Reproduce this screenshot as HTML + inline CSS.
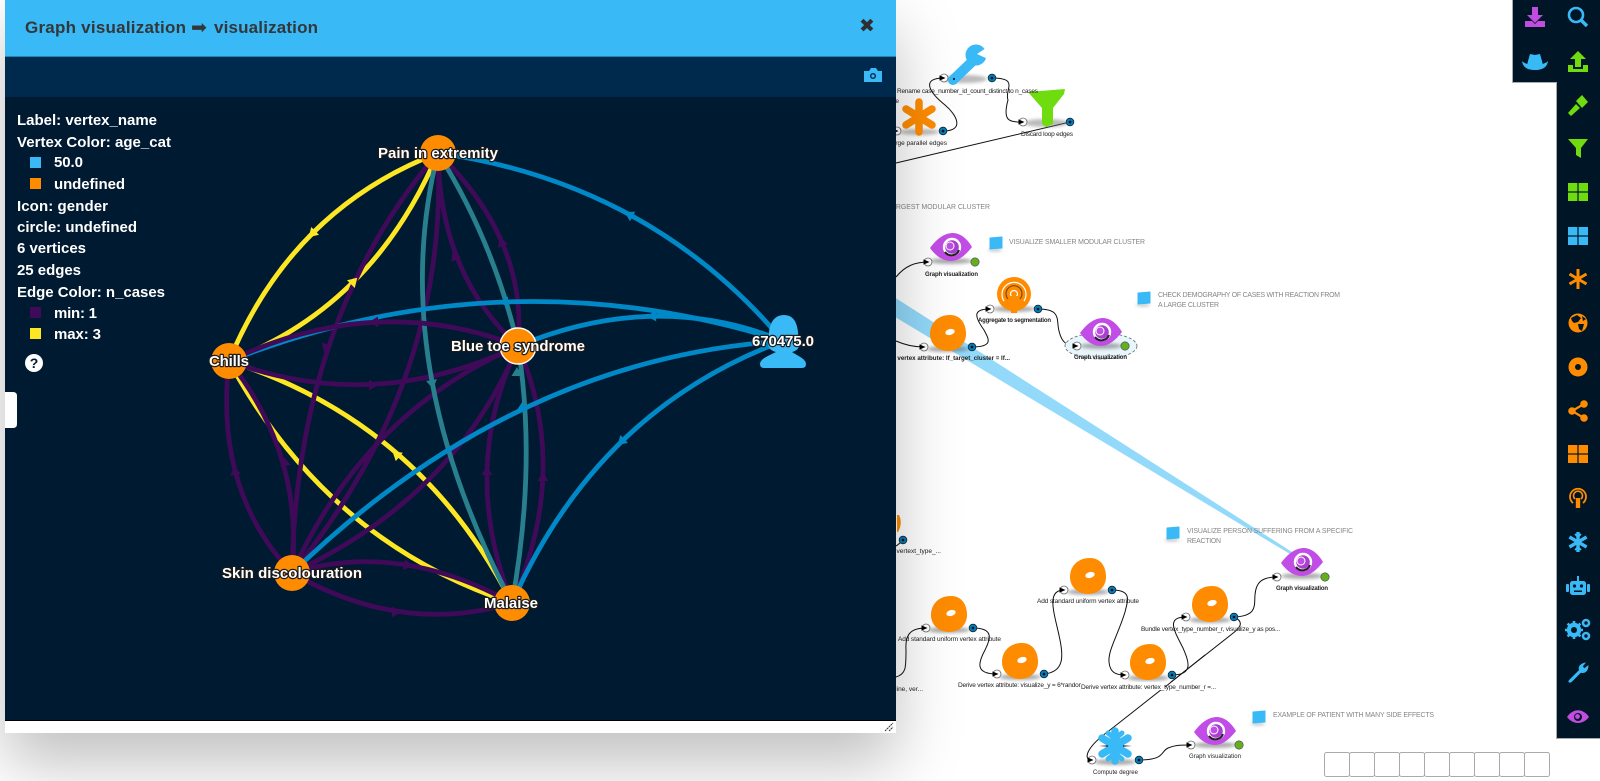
<!DOCTYPE html>
<html><head><meta charset="utf-8"><title>Graph visualization</title>
<style>
html,body{margin:0;padding:0;background:#fff;width:1600px;height:781px;overflow:hidden}
svg{position:absolute;left:0;top:0;display:block}
#panel{position:absolute;left:5px;top:0;width:891px;height:733px;background:#fff;box-shadow:0 30px 60px rgba(0,0,0,.25)}
.h{position:absolute;left:0;top:0;width:891px;height:57px;background:#39b9f6;border-bottom:1px solid #1f86b8;box-sizing:border-box}
.b{position:absolute;left:0;top:57px;width:891px;height:40px;background:#002a4d}
.c{position:absolute;left:0;top:97px;width:891px;height:623px;background:#001a31;border-bottom:1px solid #000}
text{font-family:"Liberation Sans",sans-serif}
.l{font-size:6.5px;fill:#222}
.n{font-size:6.9px;fill:#858585}
.t{font-size:15px;font-weight:bold;fill:#fff;paint-order:stroke;stroke:#001a31;stroke-width:.6px}
.g{font-size:15px;font-weight:bold;fill:#fff;text-anchor:middle;paint-order:stroke;stroke:#1b1b1b;stroke-width:2.4px;stroke-linejoin:round}
.w{fill:none;stroke:#111;stroke-width:1}
.y{fill:none;stroke:#fde725;stroke-width:4.8}
.p{fill:none;stroke:#3f0a58;stroke-width:4.8}
.e{fill:none;stroke:#28808f;stroke-width:4.8}
.u{fill:none;stroke:#0088c7;stroke-width:4.8}
</style></head><body>
<svg width="1600" height="781" viewBox="0 0 1600 781">
<defs>
<filter id="bl" x="-30%" y="-100%" width="160%" height="300%"><feGaussianBlur stdDeviation="1.6"/></filter>
<g id="sh"><ellipse cx="0" cy="0" rx="21" ry="3" fill="#666" opacity=".55" filter="url(#bl)"/></g>
<g id="eye"><use href="#sh" y="14"/><path d="M-21 1C-13-10-5-14 2-14C10-14 17-7 21 0C14 9 7 14 0 14C-9 14-16 8-21 1Z" fill="#c24de6"/><circle cx="1" r="8" fill="#a93fd0" stroke="#fff" stroke-width="2.4"/><path d="M-6 5A8 8 0 0 0 8 3" fill="none" stroke="#222" stroke-width="2"/><circle cx="-1" cy="-1" r="4" fill="#c24de6" stroke="#fff" stroke-width="1"/></g>
<g id="don"><use href="#sh" y="16"/><path d="M-18 1C-18-10-10-18 2-18C13-18 18-9 18 1C18 11 10 18 0 18C-10 18-18 11-18 1Z" fill="#ff8c00"/><ellipse cx="2" cy="-1" rx="4.8" ry="3" fill="#fff" transform="rotate(-15 2 -1)"/></g>
<g id="pi"><circle r="4" fill="#fff" stroke="#666" stroke-width=".8"/><polygon points="-4.5,-2.6 1.5,0 -4.5,2.6" fill="#000"/></g>
<g id="po"><circle r="3.9" fill="#0a78ae" stroke="#023" stroke-width=".7"/><circle r="1.3" fill="#012"/></g>
<g id="pg"><circle r="4.2" fill="#67ad1f" stroke="#345" stroke-width=".6"/></g>
<g id="note"><ellipse cx="6" cy="13" rx="7" ry="1.4" fill="#777" opacity=".5" filter="url(#bl)"/><path d="M1 1L13 0L13 11L1 12Z" fill="#39b9f6" stroke="#39b9f6" stroke-linejoin="round" stroke-width="1"/></g>
</defs>

<!-- connectors -->
<polygon points="880,288 880,308 1305,563 1306,561" fill="#39b9f6" opacity=".55"/>
<g class="x">
<path class="w" d="M1070 122L896 163"/>
<path class="w" d="M992 78C1020 78 1004 90 1008 100C1002 122 1010 122 1023 122"/>
<path class="w" d="M943 131C965 131 957 115 945 105C930 93 920 78 944 78"/>
<path class="w" d="M896 277C905 266 915 262 928 262"/>
<path class="w" d="M896 341C905 345 915 347 924 347"/>
<path class="w" d="M972 347C995 347 988 338 984 330C974 316 973 309 990 309"/>
<path class="w" d="M1038 309C1062 309 1056 320 1059 331C1062 344 1068 346 1077 346"/>
<path class="w" d="M903 540C900 543 898 545 896 546"/>
<path class="w" d="M896 677C906 674 906 668 906 650C905 635 910 628 926 628"/>
<path class="w" d="M973 628C995 628 990 640 985 650C978 663 975 674 997 674"/>
<path class="w" d="M1044 674C1065 672 1063 655 1060 640C1055 615 1045 590 1064 590"/>
<path class="w" d="M1112 590C1132 590 1128 600 1125 612C1118 635 1108 650 1109 662C1110 672 1115 675 1125 675"/>
<path class="w" d="M1172 675C1195 675 1188 660 1183 648C1175 632 1165 617 1186 617"/>
<path class="w" d="M1234 617C1258 616 1254 605 1255 595C1256 582 1262 577 1277 577"/>
<path class="w" d="M1234 617C1245 622 1240 628 1232 634L1110 730C1085 748 1083 760 1092 760"/>
<path class="w" d="M1139 760C1165 760 1160 752 1168 748C1175 745 1180 745 1191 745"/>
</g>

<!-- selection -->
<ellipse cx="1101" cy="346" rx="36" ry="13" fill="#e8f5fb" stroke="#567" stroke-width=".8" stroke-dasharray="3 2"/>

<!-- wrench -->
<ellipse cx="965" cy="79" rx="22" ry="4" fill="#777" opacity=".5" filter="url(#bl)"/>
<path d="M953 80L976 58" stroke="#39b9f6" stroke-width="10" stroke-linecap="round"/>
<circle cx="976" cy="55" r="10.5" fill="#39b9f6"/>
<polygon points="977,54 989,46 990,60" fill="#fff"/>
<circle cx="954" cy="79" r="1.1" fill="#024"/>
<!-- asterisk -->
<ellipse cx="919" cy="132" rx="20" ry="3" fill="#777" opacity=".5" filter="url(#bl)"/>
<g stroke="#ff8c00" stroke-width="7.5" stroke-linecap="round"><path d="M919 102V132"/><path d="M906 109L932 125"/><path d="M906 125L932 109"/></g>
<!-- funnel -->
<ellipse cx="1046" cy="123" rx="22" ry="4" fill="#777" opacity=".5" filter="url(#bl)"/>
<path d="M1028 92L1065 89L1064 94L1053 108L1053 124L1046 127L1042 124L1042 108Z" fill="#6fdc0f"/>

<use href="#eye" x="951" y="247"/>
<use href="#don" x="948" y="333"/>
<!-- podcast -->
<use href="#sh" x="1014" y="309"/>
<circle cx="1014" cy="294" r="17" fill="#ff8c00"/>
<path d="M1004 301A12 12 0 1 1 1024 301" fill="none" stroke="#fff" stroke-width="1.2"/>
<path d="M1008 299A8 8 0 1 1 1020 299" fill="none" stroke="#7a4a10" stroke-width="1.2"/>
<circle cx="1014" cy="294" r="3.5" fill="none" stroke="#fff" stroke-width="1.2"/>
<path d="M1009 296H1019L1017 313H1011Z" fill="#ff8c00"/>
<use href="#eye" x="1101" y="332"/>
<path d="M897 515H899Q903 523 898 532H897Z" fill="#ff8c00"/>
<use href="#don" x="949" y="614"/>
<use href="#don" x="1020" y="661"/>
<use href="#don" x="1088" y="576"/>
<use href="#don" x="1148" y="662"/>
<use href="#don" x="1210" y="604"/>
<use href="#eye" x="1302" y="562"/>
<use href="#eye" x="1215" y="731"/>
<!-- snowflake -->
<use href="#sh" x="1115" y="762"/>
<g stroke="#39b9f6" stroke-width="7.5" stroke-linecap="round"><path d="M1115 731V761"/><path d="M1102 738L1128 754"/><path d="M1102 754L1128 738"/><path d="M1108 733L1115 739L1122 733" fill="none" stroke-width="5"/><path d="M1108 759L1115 753L1122 759" fill="none" stroke-width="5"/></g>
<circle cx="1115" cy="746" r="9" fill="#39b9f6"/>
<polygon points="1099,746 1108,745 1108,747" fill="#222" opacity=".7"/>
<polygon points="1132,746 1123,745 1123,747" fill="#222" opacity=".7"/>

<!-- labels -->
<text class="l" x="897" y="93" textLength="141">Rename case_number_id_count_distinct to n_cases</text>
<text class="l" x="947" y="145" text-anchor="end">Merge parallel edges</text>
<text class="l" x="899" y="103" text-anchor="end">e</text>
<text class="l" x="1021" y="136" textLength="52">Discard loop edges</text>
<text class="l" x="925" y="276" textLength="53" style="font-weight:bold;font-size:6px">Graph visualization</text>
<text class="l" x="1010" y="360" text-anchor="end" style="font-weight:bold;font-size:6.2px">Derive vertex attribute: lf_target_cluster = lf...</text>
<text class="l" x="978" y="322" textLength="73" style="font-weight:bold;font-size:6px">Aggregate to segmentation</text>
<text class="l" x="1074" y="359" textLength="53" style="font-weight:bold;font-size:6px">Graph visualization</text>
<text class="l" x="941" y="553" text-anchor="end">, vertext_type_...</text>
<text class="l" x="898" y="641" textLength="103">Add standard uniform vertex attribute</text>
<text class="l" x="923" y="691" text-anchor="end">tline, ver...</text>
<text class="l" x="958" y="687" textLength="126">Derive vertex attribute: visualize_y = 6*random</text>
<rect x="1081" y="682" width="136" height="8" fill="#fff"/>
<text class="l" x="1037" y="603" textLength="102">Add standard uniform vertex attribute</text>
<text class="l" x="1081" y="689" textLength="135">Derive vertex attribute: vertex_type_number_r =...</text>
<text class="l" x="1141" y="631" textLength="139">Bundle vertex_type_number_r, visualize_y as pos...</text>
<text class="l" x="1276" y="590" textLength="52" style="font-weight:bold;font-size:6px">Graph visualization</text>
<text class="l" x="1093" y="774" textLength="45" style="font-size:6px">Compute degree</text>
<text class="l" x="1189" y="758" textLength="52" style="font-size:6px">Graph visualization</text>

<!-- redraw connectors across label -->
<path class="w" d="M1205 655L1165 687"/>

<!-- ports -->
<use href="#pi" x="944" y="78"/><use href="#po" x="992" y="78"/>
<use href="#pi" x="897" y="131"/><use href="#po" x="943" y="131"/>
<use href="#pi" x="1023" y="122"/><use href="#po" x="1070" y="122"/>
<use href="#pi" x="928" y="262"/><use href="#pg" x="975" y="262"/>
<use href="#pi" x="924" y="347"/><use href="#po" x="972" y="347"/>
<use href="#pi" x="990" y="309"/><use href="#po" x="1038" y="309"/>
<use href="#pi" x="1077" y="346"/><use href="#pg" x="1125" y="346"/>
<use href="#po" x="903" y="540"/>
<use href="#pi" x="926" y="628"/><use href="#po" x="973" y="628"/>
<use href="#pi" x="997" y="674"/><use href="#po" x="1044" y="674"/>
<use href="#pi" x="1064" y="590"/><use href="#po" x="1112" y="590"/>
<use href="#pi" x="1125" y="675"/><use href="#po" x="1172" y="675"/>
<use href="#pi" x="1186" y="617"/><use href="#po" x="1234" y="617"/>
<use href="#pi" x="1277" y="577"/><use href="#pg" x="1325" y="577"/>
<use href="#pi" x="1092" y="760"/><use href="#po" x="1139" y="760"/>
<use href="#pi" x="1191" y="745"/><use href="#pg" x="1239" y="745"/>

<!-- notes -->
<use href="#note" x="989" y="237"/>
<text class="n" x="1009" y="244" textLength="136">VISUALIZE SMALLER MODULAR CLUSTER</text>
<text class="n" x="990" y="209" text-anchor="end">VISUALIZE LARGEST MODULAR CLUSTER</text>
<use href="#note" x="1137" y="292"/>
<text class="n" x="1158" y="297" textLength="182">CHECK DEMOGRAPHY OF CASES WITH REACTION FROM</text>
<text class="n" x="1158" y="307" textLength="61">A LARGE CLUSTER</text>
<use href="#note" x="1166" y="527"/>
<text class="n" x="1187" y="533" textLength="166">VISUALIZE PERSON SUFFERING FROM A SPECIFIC</text>
<text class="n" x="1187" y="543" textLength="34">REACTION</text>
<use href="#note" x="1252" y="711"/>
<text class="n" x="1273" y="717" textLength="161">EXAMPLE OF PATIENT WITH MANY SIDE EFFECTS</text>

<!-- bottom boxes -->
<g fill="#fff" stroke="#aaa" stroke-width="1">
<rect x="1324.5" y="752.5" width="25" height="24" rx="2"/><rect x="1349.5" y="752.5" width="25" height="24" rx="2"/><rect x="1374.5" y="752.5" width="25" height="24" rx="2"/><rect x="1399.5" y="752.5" width="25" height="24" rx="2"/><rect x="1424.5" y="752.5" width="25" height="24" rx="2"/><rect x="1449.5" y="752.5" width="25" height="24" rx="2"/><rect x="1474.5" y="752.5" width="25" height="24" rx="2"/><rect x="1499.5" y="752.5" width="25" height="24" rx="2"/><rect x="1524.5" y="752.5" width="25" height="24" rx="2"/>
</g>
</svg>

<div id="panel"><div class="h"></div><div class="b"></div><div class="c"></div></div>

<svg width="1600" height="781" viewBox="0 0 1600 781">
<!-- header -->
<text x="25" y="33" font-size="17" font-weight="bold" fill="#33373a" textLength="161">Graph visualization</text>
<text x="191" y="33.5" font-size="19" fill="#33373a" style="font-family:'DejaVu Sans',sans-serif">➡</text>
<text x="214" y="33" font-size="17" font-weight="bold" fill="#33373a" textLength="104">visualization</text>
<text x="867" y="32" font-size="19" text-anchor="middle" fill="#2c3033" style="font-family:'DejaVu Sans',sans-serif">✖</text>
<!-- camera -->
<path d="M864 71H869L871 68H876L878 71H882V82H864Z" fill="#39b9f6"/><circle cx="873" cy="76" r="3" fill="#002a4d"/><circle cx="873" cy="76" r="1.6" fill="#39b9f6"/>
<!-- tab -->
<path d="M5 392H13Q17 392 17 396V424Q17 428 13 428H5Z" fill="#fff"/>

<!-- legend -->
<text class="t" x="17" y="125" textLength="140">Label: vertex_name</text>
<text class="t" x="17" y="147" textLength="154">Vertex Color: age_cat</text>
<rect x="30" y="157" width="11" height="11" fill="#39b9f6"/>
<text class="t" x="54" y="167" textLength="29">50.0</text>
<rect x="30" y="178" width="11" height="11" fill="#ff8c00"/>
<text class="t" x="54" y="189" textLength="71">undefined</text>
<text class="t" x="17" y="211" textLength="91">Icon: gender</text>
<text class="t" x="17" y="232" textLength="120">circle: undefined</text>
<text class="t" x="17" y="253" textLength="69">6 vertices</text>
<text class="t" x="17" y="275" textLength="64">25 edges</text>
<text class="t" x="17" y="297" textLength="148">Edge Color: n_cases</text>
<rect x="30" y="307" width="11" height="11" fill="#3f0a58"/>
<text class="t" x="54" y="318" textLength="43">min: 1</text>
<rect x="30" y="328" width="11" height="11" fill="#fde725"/>
<text class="t" x="54" y="339" textLength="47">max: 3</text>
<circle cx="34" cy="363" r="9" fill="#fff"/>
<text x="34" y="368" font-size="14" font-weight="bold" fill="#001a31" text-anchor="middle">?</text>

<!-- edges -->
<path class="y" d="M229 361Q292 209 438 153"/>
<path class="y" d="M438 153Q373 307 229 361"/>
<path class="y" d="M229 361Q420 422 512 603"/>
<path class="y" d="M229 361Q327 542 512 603"/>

<path class="p" d="M438 153Q297 317 292 573"/>
<path class="p" d="M438 153Q449 381 292 573"/>
<path class="p" d="M438 153Q440 275 518 346"/>
<path class="p" d="M438 153Q528 240 518 346"/>
<path class="p" d="M229 361Q374 415 518 346"/>
<path class="p" d="M229 361Q214 490 292 573"/>
<path class="p" d="M229 361Q304 455 292 573"/>
<path class="p" d="M518 346Q365 412 292 573"/>
<path class="p" d="M518 346Q455 497 292 573"/>
<path class="p" d="M292 573Q398 540 512 603"/>
<path class="p" d="M292 573Q402 636 512 603"/>
<path class="p" d="M512 603Q459 469 518 346"/>
<path class="p" d="M512 603Q571 470 518 346"/>

<path class="e" d="M438 153Q493 240 518 346"/>
<path class="e" d="M438 153Q385 362 512 603"/>
<path class="e" d="M512 603Q537 465 518 346"/>

<path class="u" d="M783 341Q650 183 438 153"/>
<path class="u" d="M783 341Q504 253 229 361"/>
<path class="u" d="M783 341Q656 289 518 346"/>
<path class="u" d="M783 341Q513 359 292 573"/>
<path class="u" d="M783 341Q597 410 512 603"/>
<path class="p" d="M229 361Q376 291 518 346"/>

<!-- arrowheads -->
<g fill="#0088c7">
<polygon points="6,0 -3,-5.5 -3,5.5" transform="translate(630,215) rotate(-151)"/>
<polygon points="6,0 -3,-5.5 -3,5.5" transform="translate(505,302) rotate(180)"/>
<polygon points="6,0 -3,-5.5 -3,5.5" transform="translate(653,316) rotate(178)"/>
<polygon points="6,0 -3,-5.5 -3,5.5" transform="translate(522,408) rotate(155)"/>
<polygon points="6,0 -3,-5.5 -3,5.5" transform="translate(622,441) rotate(136)"/>
</g>
<g fill="#28808f">
<polygon points="6,0 -3,-5.5 -3,5.5" transform="translate(432,383) rotate(80)"/>
<polygon points="6,0 -3,-5.5 -3,5.5" transform="translate(517,373) rotate(-90)"/>
</g>
<g fill="#fde725">
<polygon points="6,0 -3,-5.5 -3,5.5" transform="translate(313,233) rotate(135)"/>
<polygon points="6,0 -3,-5.5 -3,5.5" transform="translate(353,282) rotate(-45)"/>
<polygon points="6,0 -3,-5.5 -3,5.5" transform="translate(397,455) rotate(-140)"/>
</g>
<g fill="#3f0a58">
<polygon points="6,0 -3,-5.5 -3,5.5" transform="translate(326,347) rotate(105)"/>
<polygon points="6,0 -3,-5.5 -3,5.5" transform="translate(375,322) rotate(180)"/>
<polygon points="6,0 -3,-5.5 -3,5.5" transform="translate(455,257) rotate(-115)"/>
<polygon points="6,0 -3,-5.5 -3,5.5" transform="translate(502,243) rotate(-110)"/>
<polygon points="6,0 -3,-5.5 -3,5.5" transform="translate(235,472) rotate(-100)"/>
<polygon points="6,0 -3,-5.5 -3,5.5" transform="translate(285,463) rotate(-100)"/>
<polygon points="6,0 -3,-5.5 -3,5.5" transform="translate(372,385) rotate(0)"/>
<polygon points="6,0 -3,-5.5 -3,5.5" transform="translate(487,472) rotate(-90)"/>
<polygon points="6,0 -3,-5.5 -3,5.5" transform="translate(543,478) rotate(-90)"/>
<polygon points="6,0 -3,-5.5 -3,5.5" transform="translate(407,565) rotate(10)"/>
<polygon points="6,0 -3,-5.5 -3,5.5" transform="translate(395,612) rotate(0)"/>
</g>

<!-- vertices -->
<circle cx="438" cy="153" r="18" fill="#ff8c00"/>
<circle cx="229" cy="361" r="18" fill="#ff8c00"/>
<circle cx="518" cy="346" r="18" fill="#ff8c00" stroke="#fff" stroke-width="1.4"/>
<circle cx="292" cy="573" r="18" fill="#ff8c00"/>
<circle cx="512" cy="603" r="18" fill="#ff8c00"/>
<path d="M784 315C775 315 770 322 769 332L768 345C769 349 772 351 776 352C768 356 760 359 760 364Q760 368 764 368L802 368Q806 368 806 364C806 359 798 356 792 352C796 351 799 349 799 345L798 332C797 322 793 315 784 315Z" fill="#39b9f6"/>

<text class="g" x="438" y="158" textLength="120">Pain in extremity</text>
<text class="g" x="229" y="366" textLength="40">Chills</text>
<text class="g" x="518" y="351" textLength="134">Blue toe syndrome</text>
<text class="g" x="783" y="346" textLength="62">670475.0</text>
<text class="g" x="292" y="578" textLength="140">Skin discolouration</text>
<text class="g" x="511" y="608" textLength="54">Malaise</text>

<!-- resize handle -->
<path d="M885 731L893 723M889 731L893 727" stroke="#333" stroke-width="1" stroke-dasharray="2 .6"/>

<!-- toolbar -->
<path d="M1513 0V82H1557V738.5H1600V0Z" fill="#001526"/>
<path d="M1512.5 0V82.5H1556.5V738.5H1600" fill="none" stroke="#aaa" stroke-width="1"/>

<!-- download -->
<g transform="translate(1535,17)" fill="#c04ce0"><path d="M-3-10H3V-2H8L0 6L-8-2H-3Z"/><path d="M-10 4H-3L0 7L3 4H10V10H-10Z"/></g>
<!-- hat -->
<g transform="translate(1535,62)" fill="#39b9f6"><path d="M-7-1L-5-8L0-7L5-8L7-1L8 3H-8Z"/><path d="M-13-1C-9 4 9 4 13-1C12 7 5 8 0 8C-5 8-12 7-13-1Z"/></g>
<!-- search -->
<g transform="translate(1578,17)" fill="none" stroke="#39b9f6"><circle cx="-2" cy="-2" r="7" stroke-width="2.6"/><path d="M3 3L9 9" stroke-width="3.4"/></g>
<!-- upload -->
<g transform="translate(1578,62)" fill="#6fdc0f"><path d="M0-11L8-3H3V5H-3V-3H-8Z"/><path d="M-10 3H-5V7H5V3H10V10H-10Z"/></g>
<!-- gavel -->
<g transform="translate(1578,105)" fill="#6fdc0f"><path d="M-10 8L-2-1L2 3L-7 11Z"/><path d="M-2-4L4-10L10-3L4 3Z"/></g>
<!-- funnel -->
<polygon points="1568,139 1588,139 1581,148 1581,158 1576,155 1576,148" fill="#6fdc0f"/>
<!-- grid green -->
<g transform="translate(1578,192)" fill="#6fdc0f"><rect x="-10" y="-9" width="9.4" height="8.4"/><rect x=".6" y="-9" width="9.4" height="8.4"/><rect x="-10" y=".6" width="9.4" height="8.4"/><rect x=".6" y=".6" width="9.4" height="8.4"/></g>
<!-- grid blue -->
<g transform="translate(1578,236)" fill="#39b9f6"><rect x="-10" y="-9" width="9.4" height="8.4"/><rect x=".6" y="-9" width="9.4" height="8.4"/><rect x="-10" y=".6" width="9.4" height="8.4"/><rect x=".6" y=".6" width="9.4" height="8.4"/></g>
<!-- asterisk -->
<g transform="translate(1578,279)" stroke="#ff8c00" stroke-width="3"><path d="M0-10V10"/><path d="M-8.5-5L8.5 5"/><path d="M-8.5 5L8.5-5"/></g>
<!-- globe -->
<g transform="translate(1578,323)"><circle r="9.5" fill="#ff8c00"/><path d="M-7-5L-1-8L3-5L0-1L-4 0L-6-2ZM0 1L6 1L4 8L1 6ZM4-7L8-4L5-2Z" fill="#001526"/></g>
<!-- donut -->
<g transform="translate(1578,367)"><circle r="9.5" fill="#ff8c00"/><circle r="3" fill="#001526"/></g>
<!-- share -->
<g transform="translate(1578,411)" fill="#ff8c00" stroke="#ff8c00"><path d="M6-7L-6 0L6 7" stroke-width="2.2" fill="none"/><circle cx="6" cy="-7" r="3.3"/><circle cx="-6" cy="0" r="3.3"/><circle cx="6" cy="7" r="3.3"/></g>
<!-- grid orange -->
<g transform="translate(1578,454)" fill="#ff8c00"><rect x="-10" y="-9" width="9.4" height="8.4"/><rect x=".6" y="-9" width="9.4" height="8.4"/><rect x="-10" y=".6" width="9.4" height="8.4"/><rect x=".6" y=".6" width="9.4" height="8.4"/></g>
<!-- podcast -->
<g transform="translate(1578,498)" fill="none" stroke="#ff8c00"><path d="M-5 5A8 8 0 1 1 5 5" stroke-width="1.8"/><path d="M-3 1A4.5 4.5 0 1 1 3 1" stroke-width="1.6"/><path d="M0 0V10" stroke-width="4.4"/></g>
<!-- snow -->
<g transform="translate(1578,542)" stroke="#39b9f6" stroke-width="3.4"><path d="M0-10V10"/><path d="M-8.6-5L8.6 5"/><path d="M-8.6 5L8.6-5"/><path d="M-3-8L0-5L3-8M-3 8L0 5L3 8" fill="none" stroke-width="1.8"/><circle r="3.5" fill="#39b9f6" stroke="none"/></g>
<!-- robot -->
<g transform="translate(1578,587)" fill="#39b9f6"><rect x="-8" y="-6" width="16" height="14" rx="2.5"/><rect x="-1" y="-11" width="2" height="5"/><rect x="-12" y="-3" width="3" height="8" rx="1"/><rect x="9" y="-3" width="3" height="8" rx="1"/><circle cx="-3.5" cy="-1" r="1.6" fill="#001526"/><circle cx="3.5" cy="-1" r="1.6" fill="#001526"/><rect x="-4" y="3.5" width="8" height="1.5" fill="#001526"/></g>
<!-- gears -->
<g transform="translate(1578,630)"><circle cx="-4" cy="0" r="5" fill="none" stroke="#39b9f6" stroke-width="4.4"/><g stroke="#39b9f6" stroke-width="2.6"><path d="M-4-9V9M-13 0H5M-10.4-6.4L2.4 6.4M-10.4 6.4L2.4-6.4"/></g><circle cx="-4" cy="0" r="3" fill="#001526"/><circle cx="8" cy="-7" r="3" fill="none" stroke="#39b9f6" stroke-width="2.6"/><circle cx="8" cy="6" r="3" fill="none" stroke="#39b9f6" stroke-width="2.6"/></g>
<!-- wrench -->
<path transform="translate(1578,673) scale(.72) translate(-1580,-674)" d="M1568 684L1582 670C1580 665 1584 661 1590 660L1586 665L1589 668L1594 664C1594 671 1589 675 1584 673L1571 686C1568 688 1566 686 1568 684Z" fill="#39b9f6" stroke="#39b9f6"/>
<!-- eye -->
<g transform="translate(1578,717)"><path d="M-11 0C-5-9 5-9 11 0C5 8-5 8-11 0Z" fill="#c04ce0"/><circle r="4" fill="#001526"/><circle cx="-.5" cy="-.5" r="2.4" fill="#c04ce0"/></g>
</svg>
</body></html>
